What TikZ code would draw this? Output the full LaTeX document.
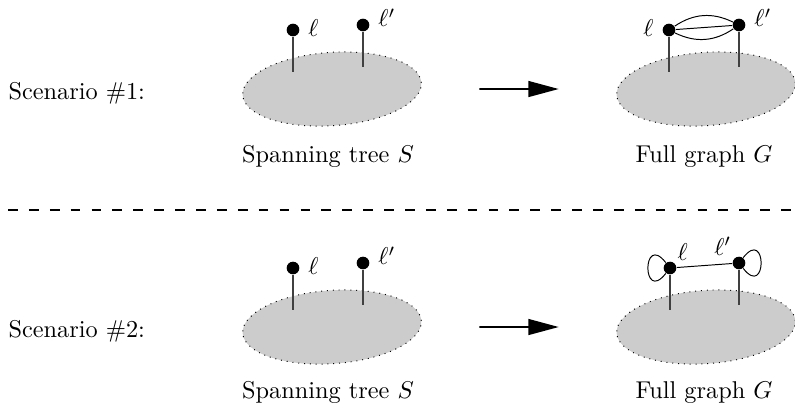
\documentclass[tikz,border=0pt]{standalone}
\usetikzlibrary{arrows.meta,shapes.geometric}

\begin{document}
\begin{tikzpicture}[x=0.01447cm,y=-0.01447cm,
	blob/.style={ellipse,draw,dotted,fill=gray!40,minimum width=2.59cm,minimum height=1.06cm,inner sep=0pt,rotate=4},
	vert/.style={circle,fill,inner sep=0pt,minimum size=5.2pt},
	stalk/.style={black!75,line width=0.5pt},
	bigarrow/.style={line width=0.8pt,-{Triangle[length=12.5pt,width=6.5pt]},shorten <=24pt,shorten >=24pt}]

	\useasboundingbox (0,0) rectangle (795,411);

	% scenario 1
	\node [anchor=base west] (sc1) at (0,99) {Scenario \#1:};
	\node [blob] (s1) at (332,89) {};
	\node [blob] (g1) at (706,89) {};
	\draw [bigarrow] (s1) -- (g1);
	\node [anchor=base] (s1lab) at (328,162) {Spanning tree $S$};
	\node [anchor=base] (g1lab) at (704,162) {Full graph $G$};

	% leaves in S
	\coordinate (s1af) at (293,72);
	\coordinate (s1bf) at (363,67);
	\node [vert,label={[yshift=1pt]right:$\ell$}] (s1a) at (293,30) {};
	\node [vert,label={[yshift=3pt]right:$\ell'$}] (s1b) at (363,25) {};
	\draw [stalk] (s1a) -- (s1af);
	\draw [stalk] (s1b) -- (s1bf);

	% leaves in G, parallel edges
	\coordinate (g1af) at (669,72);
	\coordinate (g1bf) at (739,67);
	\node [vert,label={[yshift=1pt]left:$\ell$}] (g1a) at (669,30) {};
	\node [vert,label={[yshift=3pt]right:$\ell'$}] (g1b) at (739,25) {};
	\draw [stalk] (g1a) -- (g1af);
	\draw [stalk] (g1b) -- (g1bf);
	\draw (g1a) -- (g1b);
	\draw (g1a) to [bend left=30] (g1b);
	\draw (g1a) to [bend right=30] (g1b);

	% separator
	\draw [dash pattern=on 4pt off 4.6pt,line width=0.5pt] (8,210) -- (795,210);

	% scenario 2
	\node [anchor=base west] (sc2) at (0,337) {Scenario \#2:};
	\node [blob] (s2) at (332,327) {};
	\node [blob] (g2) at (706,327) {};
	\draw [bigarrow] (s2) -- (g2);
	\node [anchor=base] (s2lab) at (328,398) {Spanning tree $S$};
	\node [anchor=base] (g2lab) at (704,398) {Full graph $G$};

	% leaves in S
	\coordinate (s2af) at (293,310);
	\coordinate (s2bf) at (363,305);
	\node [vert,label={[yshift=1pt]right:$\ell$}] (s2a) at (293,268) {};
	\node [vert,label={[yshift=3pt]right:$\ell'$}] (s2b) at (363,263) {};
	\draw [stalk] (s2a) -- (s2af);
	\draw [stalk] (s2b) -- (s2bf);

	% leaves in G, edge and loops
	\coordinate (g2af) at (670,310);
	\coordinate (g2bf) at (739,305);
	\node [vert,label={[inner sep=1pt]above right:$\ell$}] (g2a) at (670,268) {};
	\node [vert,label={[inner sep=1pt]above left:$\ell'$}] (g2b) at (739,263) {};
	\draw [stalk] (g2a) -- (g2af);
	\draw [stalk] (g2b) -- (g2bf);
	\draw (g2a) -- (g2b);
	\draw (g2a) to [out=232,in=128,min distance=16pt] (g2a);
	\draw (g2b) to [out=-52,in=52,min distance=16pt] (g2b);

\end{tikzpicture}
\end{document}
